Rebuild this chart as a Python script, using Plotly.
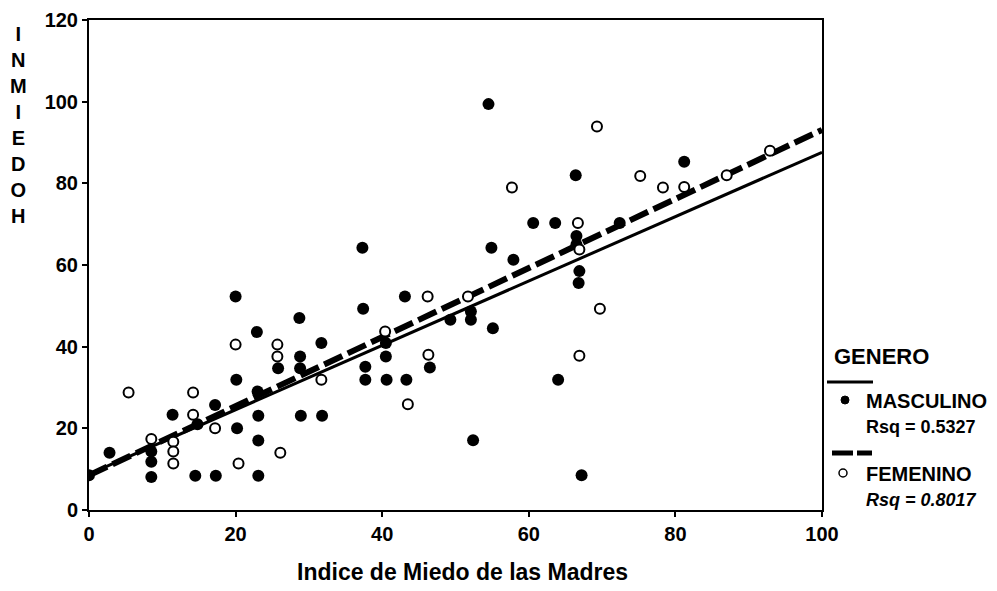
import plotly.graph_objects as go

# ---- data ----
masc_x = [0.0, 2.8, 8.5, 8.5, 8.5, 11.4, 14.5, 14.8, 17.2, 17.3, 20.0, 20.1, 20.2, 22.9, 23.0,
          23.1, 23.1, 23.1, 25.8, 28.7, 28.8, 28.8, 28.9, 31.7, 31.8, 37.3, 37.4, 37.7, 37.7,
          40.5, 40.5, 40.6, 43.1, 43.3, 46.5, 49.3, 52.1, 52.1, 52.4, 54.5, 54.9, 55.1, 57.9,
          60.6, 63.6, 64.0, 66.4, 66.5, 66.5, 66.9, 66.8, 67.2, 72.4, 81.2]
masc_y = [8.5, 14.0, 14.3, 11.8, 8.1, 23.3, 8.4, 21.0, 25.7, 8.4, 52.3, 31.9, 20.0, 43.6, 29.0,
          23.1, 17.0, 8.4, 34.7, 47.0, 37.6, 34.7, 23.1, 40.9, 23.1, 64.2, 49.3, 35.1, 31.9,
          40.9, 37.6, 31.9, 52.3, 31.9, 34.9, 46.6, 48.6, 46.6, 17.1, 99.4, 64.2, 44.5, 61.3,
          70.3, 70.3, 31.9, 82.0, 67.1, 65.0, 58.5, 55.6, 8.5, 70.3, 85.3]

fem_x = [5.4, 8.5, 11.5, 11.5, 11.5, 14.2, 14.2, 17.2, 20.0, 20.4, 25.7, 25.7, 26.1, 31.7,
         40.4, 43.5, 46.2, 46.3, 51.7, 57.7, 66.7, 66.9, 66.9, 69.3, 69.7, 75.2, 78.3, 81.2,
         87.0, 92.9]
fem_y = [28.8, 17.4, 16.7, 14.3, 11.4, 28.8, 23.3, 20.0, 40.5, 11.4, 40.5, 37.6, 14.0, 31.9,
         43.7, 25.9, 52.3, 38.0, 52.3, 79.0, 70.3, 63.8, 37.8, 93.9, 49.3, 81.8, 79.0, 79.1,
         82.0, 88.0]

fit_x = [0, 100]
masc_fit = [8.8, 87.6]
fem_fit = [8.5, 93.1]

x_ticks = [0, 20, 40, 60, 80, 100]
y_ticks = [0, 20, 40, 60, 80, 100, 120]

legend_title = "GENERO"
masc_label = "MASCULINO"
fem_label = "FEMENINO"
masc_rsq = "Rsq = 0.5327"
fem_rsq = "Rsq = 0.8017"

FONT = "Liberation Sans, Arial, sans-serif"

# ---- layout geometry (page pixels; the page body adds an 8px offset) ----
OFF = 8
W, H = 997 - OFF, 591 - OFF
PL, PR, PT, PB = 89, 822, 20, 510          # plot area edges in page pixels
L, T = PL - OFF, PT - OFF
R = (W + OFF) - PR
B = (H + OFF) - PB
PW, PH = PR - PL, PB - PT


def px(xp):
    return (xp - PL) / PW


def py(yp):
    return (PB - yp) / PH


fig = go.Figure()

fig.add_trace(go.Scatter(x=fit_x, y=masc_fit, mode="lines",
                         line=dict(color="black", width=3), showlegend=False, hoverinfo="skip"))
fig.add_trace(go.Scatter(x=fit_x, y=fem_fit, mode="lines",
                         line=dict(color="black", width=6, dash="20px,6px"),
                         showlegend=False, hoverinfo="skip"))
fig.add_trace(go.Scatter(x=masc_x, y=masc_y, mode="markers", name=masc_label,
                         marker=dict(symbol="circle", size=12, color="black",
                                     line=dict(width=0)), showlegend=False))
fig.add_trace(go.Scatter(x=fem_x, y=fem_y, mode="markers", name=fem_label,
                         marker=dict(symbol="circle", size=10, color="white",
                                     line=dict(width=2, color="black")), showlegend=False))

axis_common = dict(showgrid=False, zeroline=False, showline=True, linecolor="black",
                   linewidth=2, mirror=True, ticks="outside", ticklen=5, tickwidth=2,
                   tickcolor="black",
                   tickfont=dict(family=FONT, size=20, color="black", weight="bold"))

fig.update_xaxes(range=[0, 100], tickvals=x_ticks, **axis_common)
fig.update_yaxes(range=[0, 120], tickvals=y_ticks, **axis_common)

annotations = [
    dict(text="Indice de Miedo de las Madres", x=px(462), y=py(572), xref="paper", yref="paper",
         xanchor="center", yanchor="middle", showarrow=False,
         font=dict(family=FONT, size=23, color="black", weight="bold")),
    dict(text="<br>".join(list("INMIEDOH")), x=px(18), y=py(125), xref="paper", yref="paper",
         xanchor="center", yanchor="middle", showarrow=False, align="center",
         font=dict(family=FONT, size=20, color="black", weight="bold")),
    dict(text=legend_title, x=px(832), y=py(356), xref="paper", yref="paper",
         xanchor="left", yanchor="middle", showarrow=False,
         font=dict(family=FONT, size=22, color="black", weight="bold")),
    dict(text=masc_label, x=px(864), y=py(401), xref="paper", yref="paper",
         xanchor="left", yanchor="middle", showarrow=False,
         font=dict(family=FONT, size=20, color="black", weight="bold")),
    dict(text=masc_rsq, x=px(864), y=py(427), xref="paper", yref="paper",
         xanchor="left", yanchor="middle", showarrow=False,
         font=dict(family=FONT, size=18, color="black", weight="bold")),
    dict(text=fem_label, x=px(864), y=py(474), xref="paper", yref="paper",
         xanchor="left", yanchor="middle", showarrow=False,
         font=dict(family=FONT, size=20, color="black", weight="bold")),
    dict(text="<i>" + fem_rsq + "</i>", x=px(864), y=py(500), xref="paper", yref="paper",
         xanchor="left", yanchor="middle", showarrow=False,
         font=dict(family=FONT, size=18, color="black", weight="bold")),
]

shapes = [
    dict(type="line", xref="paper", yref="paper", x0=px(827), x1=px(873), y0=py(382), y1=py(382),
         line=dict(color="black", width=3)),
    dict(type="circle", xref="paper", yref="paper", x0=px(841), x1=px(849), y0=py(404), y1=py(396),
         fillcolor="black", line=dict(color="black", width=1)),
    dict(type="line", xref="paper", yref="paper", x0=px(832), x1=px(872), y0=py(453), y1=py(453),
         line=dict(color="black", width=5, dash="21px,4px")),
    dict(type="circle", xref="paper", yref="paper", x0=px(839), x1=px(847), y0=py(477), y1=py(469),
         fillcolor="white", line=dict(color="black", width=1.5)),
]

fig.update_layout(
    width=W, height=H,
    margin=dict(l=L, r=R, t=T, b=B, autoexpand=False),
    paper_bgcolor="white", plot_bgcolor="white",
    showlegend=False,
    annotations=annotations,
    shapes=shapes,
    font=dict(family=FONT, color="black"),
)

fig.write_html("out.html")
